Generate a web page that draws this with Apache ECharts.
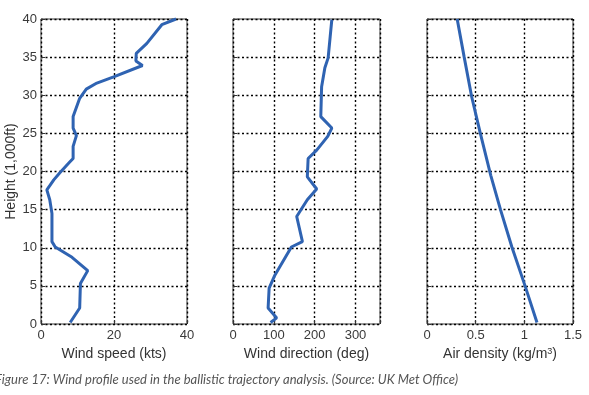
<!DOCTYPE html>
<html><head><meta charset="utf-8">
<script src="https://cdn.jsdelivr.net/npm/echarts@6/dist/echarts.min.js"></script>
<style>html,body{margin:0;padding:0;background:#fff}#c{width:589px;height:395px}</style>
</head><body><div id="c"></div>
<script>
// Wind speed profile
var speedHeight = [0.2, 2.1, 5.3, 7, 8.75, 10.1, 10.8, 14.5, 16.3, 17.6, 18.9, 19.8, 21.3, 21.7, 23.3, 24.7, 25.7, 27.2, 29.6, 30.8, 31.6, 32.4, 33.9, 34.5, 35.5, 36.8, 39.25, 40];
var speedKts   = [8, 10.6, 10.8, 12.8, 8.5, 3.9, 3, 3, 2.4, 1.6, 3.5, 5.1, 8, 8.8, 8.8, 9.7, 8.8, 8.8, 10.6, 12.4, 15.3, 19.9, 27.8, 26, 26.1, 29, 33.1, 37];
// Wind direction profile
var dirHeight = [0.2, 0.8, 2.1, 4.7, 6.4, 10.1, 10.8, 14.1, 16.3, 17.7, 19.3, 21.7, 22.8, 24.6, 25.7, 27.2, 31.1, 33.6, 34.9, 37.7, 39.9];
var dirDeg    = [92, 107, 86, 88.5, 102.5, 143, 170, 156, 182, 205, 182, 184, 205, 232, 242, 215, 217, 225, 233, 238, 242];
// Air density profile
var densHeight = [0.2, 5.1, 10.1, 15, 19.5, 25, 29.8, 35, 40];
var densKgm3   = [1.13, 1.005, 0.872, 0.755, 0.655, 0.548, 0.459, 0.382, 0.31];

var heightTicks = [0, 5, 10, 15, 20, 25, 30, 35, 40];
var speedTicks = [0, 20, 40];
var dirTicks = [0, 100, 200, 300];
var densTicks = [0, 0.5, 1, 1.5];

function pairs(xs, ys){ return ys.map(function(y,i){ return [xs[i], y]; }); }

var FONT = 'Liberation Sans';
var gridBase = {top: 19, height: 305, show: true, borderColor: '#3a3a3a', borderWidth: 1, containLabel: false};
var split = {show: true, lineStyle: {type: [2, 2.5], color: '#000', width: 1.4}};
var lab = {color: '#3a3a3a', fontSize: 13, fontFamily: FONT};
var tick = {show: true, inside: true, length: 4, lineStyle: {color: '#333'}};

function xAx(idx, min, max, interval, name, ticks){
  return {
    type: 'value', gridIndex: idx, min: min, max: max, interval: interval,
    axisLine: {show: false}, axisTick: tick, splitLine: split,
    axisLabel: Object.assign({margin: 5, formatter: function(v){ return ticks.indexOf(v) >= 0 ? String(v) : ''; }}, lab),
    name: name, nameLocation: 'middle', nameGap: 20,
    nameTextStyle: {color: '#333', fontSize: 14, fontFamily: FONT, rich: {sup: {fontSize: 9, verticalAlign: 'top', padding: [0,0,6,0], color: '#333', fontFamily: FONT}}}
  };
}
function yAx(idx, showLabel){
  return {
    type: 'value', gridIndex: idx, min: 0, max: 40, interval: 5,
    axisLine: {show: false}, axisTick: tick, splitLine: split,
    axisLabel: Object.assign({show: showLabel, margin: 4, formatter: function(v){ return heightTicks.indexOf(v) >= 0 ? String(v) : ''; }}, lab),
    name: showLabel ? 'Height (1,000ft)' : '', nameLocation: 'middle', nameGap: 22,
    nameTextStyle: {color: '#333', fontSize: 14, fontFamily: FONT}
  };
}
var lineStyle = {color: '#2f63b2', width: 3};
function ser(idx, data){
  return {type: 'line', xAxisIndex: idx, yAxisIndex: idx, data: data, showSymbol: false, symbol: 'none',
    lineStyle: lineStyle, itemStyle: {color: '#2f63b2'}, animation: false, clip: false};
}

var chart = echarts.init(document.getElementById('c'), null, {renderer: 'canvas'});
chart.setOption({
  animation: false,
  backgroundColor: '#fff',
  grid: [
    Object.assign({left: 41, width: 146}, gridBase),
    Object.assign({left: 233, width: 147}, gridBase),
    Object.assign({left: 427, width: 146}, gridBase)
  ],
  xAxis: [
    xAx(0, 0, 40, 20, 'Wind speed (kts)', speedTicks),
    xAx(1, 0, 360, 100, 'Wind direction (deg)', dirTicks),
    xAx(2, 0, 1.5, 0.5, 'Air density (kg/m{sup|3})', densTicks)
  ],
  yAxis: [yAx(0, true), yAx(1, false), yAx(2, false)],
  series: [
    ser(0, pairs(speedKts, speedHeight)),
    ser(1, pairs(dirDeg, dirHeight)),
    ser(2, pairs(densKgm3, densHeight))
  ],
  graphic: [{
    type: 'text', left: -5, top: 373,
    style: {text: 'Figure 17: Wind profile used in the ballistic trajectory analysis. (Source: UK Met Office)',
      fill: '#555', font: 'italic 13px Lato'}
  }]
});
</script></body></html>
